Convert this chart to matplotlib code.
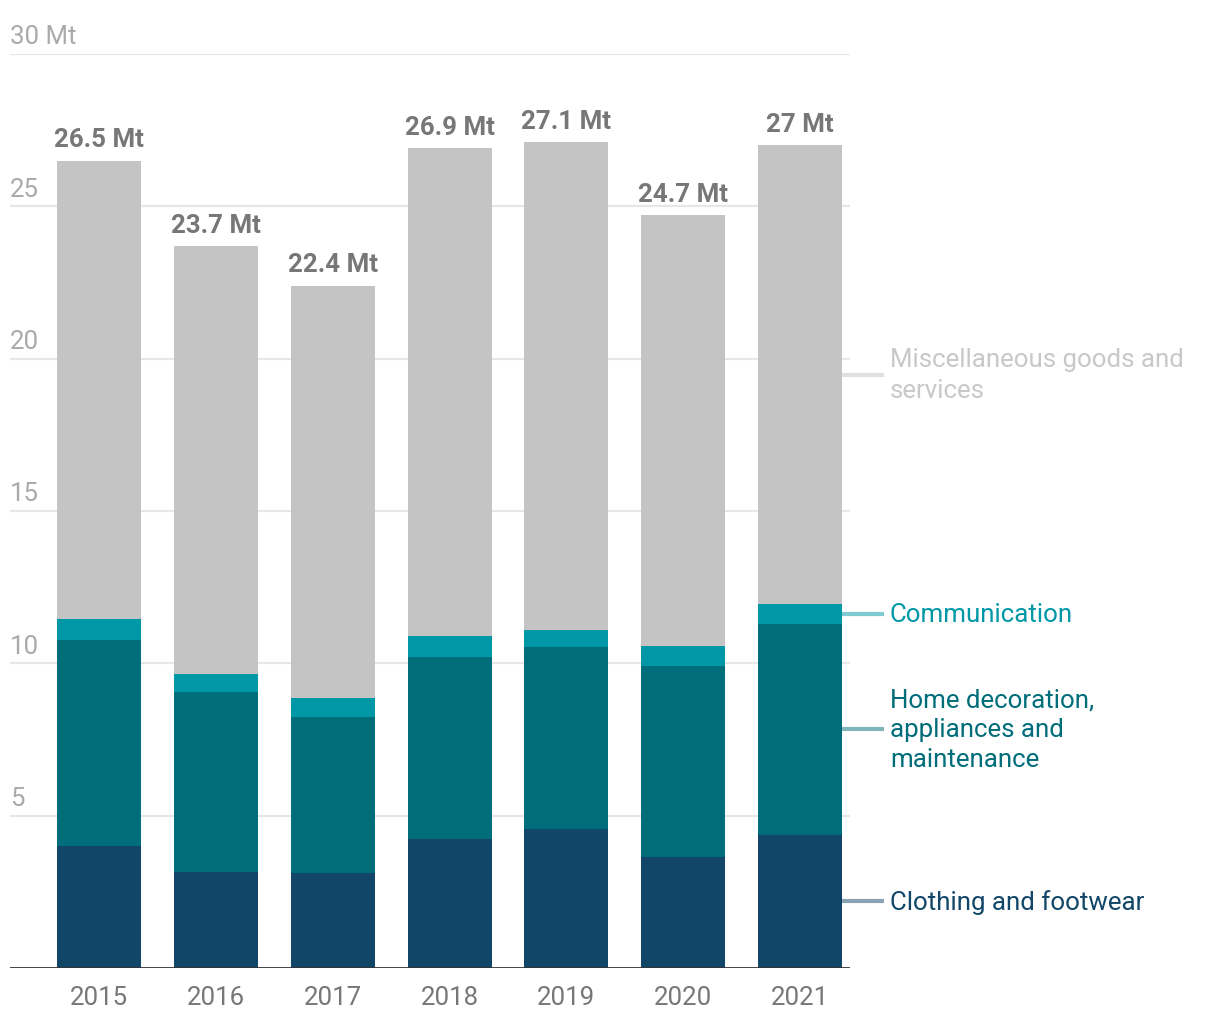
import matplotlib
matplotlib.use("Agg")
import matplotlib.pyplot as plt
import numpy as np

years = ["2015", "2016", "2017", "2018", "2019", "2020", "2021"]
clothing = [4.01, 3.15, 3.12, 4.24, 4.57, 3.65, 4.37]
home = [6.77, 5.92, 5.13, 5.98, 5.95, 6.27, 6.93]
communication = [0.66, 0.59, 0.62, 0.69, 0.59, 0.66, 0.66]
totals = [26.5, 23.7, 22.4, 26.9, 27.1, 24.7, 27.0]
total_labels = ["26.5 Mt", "23.7 Mt", "22.4 Mt", "26.9 Mt", "27.1 Mt", "24.7 Mt", "27 Mt"]
series_names = ["Clothing and footwear", "Home decoration,\nappliances and\nmaintenance",
                "Communication", "Miscellaneous goods and\nservices"]
yticks = [5, 10, 15, 20, 25, 30]
ytick_labels = ["5", "10", "15", "20", "25", "30 Mt"]

colors = ["#114668", "#006d7a", "#0097a7", "#c4c4c4"]
text_colors = ["#114668", "#006d7a", "#0097a7", "#c8c8c8"]
line_colors = ["#8aa3b4", "#80b6bc", "#80cbd3", "#e0e0e0"]

plt.rcParams['font.family'] = ['Roboto', 'DejaVu Sans']
FS = 18.6

W, H = 1220, 1020
fig = plt.figure(figsize=(W/100, H/100), dpi=100)
ax = fig.add_axes([10/W, 51/H, 840/W, (968-54)/H])

x = np.arange(len(years))
misc = [t - c - h - m for t, c, h, m in zip(totals, clothing, home, communication)]
stack = [clothing, home, communication, misc]
bottom = np.zeros(len(years))
width = 0.719
mids = []
for vals, col in zip(stack, colors):
    vals = np.array(vals)
    ax.bar(x, vals, width, bottom=bottom, color=col, zorder=2)
    mids.append(bottom[-1] + vals[-1] / 2)
    bottom = bottom + vals

ax.set_xlim(-0.762, 6.428)
ax.set_ylim(0, 30)

for y, lab in zip(yticks, ytick_labels):
    ax.axhline(y, color="#e6e6e6", lw=1.5, zorder=1)
    ax.text(-0.762, y + 0.58, lab, ha="left", va="center",
            fontsize=FS, color="#aaaaaa", clip_on=False)
ax.axhline(0, color="#333333", lw=2, zorder=3)

for xi, t, lab in zip(x, totals, total_labels):
    ax.text(xi, t + 0.3, lab, ha="center", va="bottom", fontsize=FS,
            fontweight="bold", color="#777777")

for xi, yl in zip(x, years):
    ax.text(xi, -0.55, yl, ha="center", va="top", fontsize=FS, color="#777777",
            clip_on=False)

# direct labels
px = 1/116.83
for name, m, tc, lc in zip(series_names, mids, text_colors, line_colors):
    ax.plot([6 + width/2, 6 + width/2 + 42*px], [m, m], color=lc, lw=3,
            solid_capstyle="butt", clip_on=False, zorder=2)
    ax.text(6 + width/2 + 48*px, m, name, ha="left", va="center", fontsize=FS,
            color=tc, linespacing=1.32, clip_on=False)

for s in ax.spines.values():
    s.set_visible(False)
ax.set_xticks([])
ax.set_yticks([])

fig.savefig("out.png", dpi=100)
